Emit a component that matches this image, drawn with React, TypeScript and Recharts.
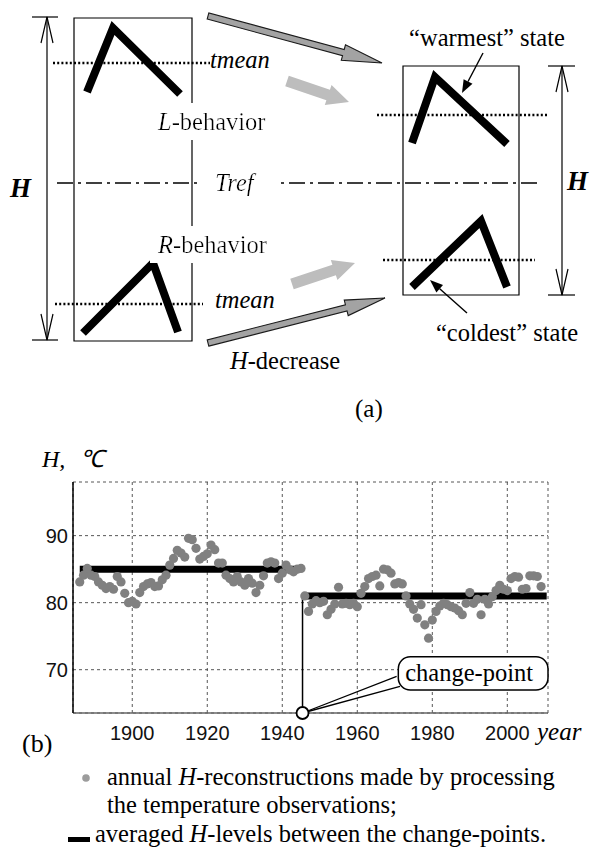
import React from 'react';
import {
  ComposedChart, XAxis, YAxis, CartesianGrid, Line, Scatter,
  ReferenceLine, ReferenceDot, ReferenceArea,
} from 'recharts';

const SERIF = "'Liberation Serif', 'Times New Roman', Times, serif";
const SANS = "'Liberation Sans', Arial, Helvetica, sans-serif";
const TEXT_SIZE = 24.5;

// ===================== Panel (b): data =====================
const yearsBefore = [
  1886, 1887, 1888, 1889, 1890, 1891, 1892, 1893, 1894, 1895,
  1896, 1897, 1898, 1899, 1900, 1901, 1902, 1903, 1904, 1905,
  1906, 1907, 1908, 1909, 1910, 1911, 1912, 1913, 1914, 1915,
  1916, 1917, 1918, 1919, 1920, 1921, 1922, 1923, 1924, 1925,
  1926, 1927, 1928, 1929, 1930, 1931, 1932, 1933, 1934, 1935,
  1936, 1937, 1938, 1939, 1940, 1941, 1942, 1943, 1944, 1945,
];
const hBefore = [
  83.1, 84.1, 85.1, 84.1, 83.9, 83.1, 82.6, 82.1, 82.4, 82.0,
  83.9, 83.1, 81.4, 80.0, 80.2, 79.8, 81.5, 82.4, 82.8, 83.0,
  82.4, 82.5, 83.4, 84.1, 85.6, 86.6, 87.8, 87.4, 86.8, 89.6,
  89.4, 88.1, 86.5, 86.9, 87.3, 88.6, 87.9, 85.9, 85.9, 84.1,
  83.6, 83.1, 83.9, 83.1, 82.6, 83.6, 82.9, 81.5, 82.6, 84.0,
  85.9, 86.1, 85.9, 83.6, 84.4, 85.6, 84.9, 84.6, 85.0, 85.1,
];
const yearsAfter = [
  1946, 1947, 1948, 1949, 1950, 1951, 1952, 1953, 1954, 1955,
  1956, 1957, 1958, 1959, 1960, 1961, 1962, 1963, 1964, 1965,
  1966, 1967, 1968, 1969, 1970, 1971, 1972, 1973, 1974, 1975,
  1976, 1977, 1978, 1979, 1980, 1981, 1982, 1983, 1984, 1985,
  1986, 1987, 1988, 1989, 1990, 1991, 1992, 1993, 1994, 1995,
  1996, 1997, 1998, 1999, 2000, 2001, 2002, 2003, 2004, 2005,
  2006, 2007, 2008, 2009,
];
const hAfter = [
  81.0, 78.7, 79.8, 80.3, 80.0, 80.2, 78.2, 79.0, 79.8, 82.3,
  79.8, 79.9, 79.7, 79.9, 79.4, 81.4, 82.4, 83.6, 83.9, 84.1,
  82.5, 85.0, 84.9, 84.4, 82.8, 83.0, 82.8, 81.0, 79.8, 79.0,
  77.7, 79.7, 76.7, 74.7, 77.4, 78.7, 79.5, 79.9, 79.7, 79.4,
  79.2, 78.8, 78.2, 79.9, 81.5, 79.9, 80.5, 78.2, 80.5, 79.8,
  80.9, 81.8, 82.6, 82.0, 81.8, 83.6, 83.9, 83.8, 82.0, 82.1,
  84.0, 84.0, 83.9, 82.4,
];
// averaged H-levels between change-points
const levelFrom = [1886, 1946];
const levelTo = [1944.7, 2010.5];
const levelH = [85, 81];
const changePointYear = 1945.4;

const yearTicks = [1900, 1920, 1940, 1960, 1980, 2000];
const hTicks = [70, 80, 90];
const yearDomain = [1884.2, 2010.85];
const hDomain = [63.54, 98.0];

// callout annotation (data space)
const calloutBox = { x1: 1970.94, x2: 2010.85, y1: 66.97, y2: 71.94 };
const calloutTail = [
  { x: 1970.5, y: 69.0 },
  { x: 1971.4, y: 67.5 },
];

const annualPoints = [
  ...yearsBefore.map((yr, i) => ({ year: yr, h: hBefore[i] })),
  ...yearsAfter.map((yr, i) => ({ year: yr, h: hAfter[i] })),
];
const levelSeries = levelH.map((h, i) => [
  { year: levelFrom[i], h },
  { year: levelTo[i], h },
]);

// ===================== Panel (a): schematic geometry =====================
const schemeBoxes = [
  { x1: 74, y1: 18, x2: 192, y2: 341 },
  { x1: 403, y1: 66, x2: 519, y2: 295 },
];
const schemeProfiles = [
  [{ x: 87, y: 92 }, { x: 113, y: 28 }, { x: 180, y: 94 }],
  [{ x: 83, y: 333 }, { x: 153, y: 263 }, { x: 178, y: 332 }],
  [{ x: 412, y: 143 }, { x: 435, y: 77 }, { x: 507, y: 144 }],
  [{ x: 412, y: 287 }, { x: 481, y: 221 }, { x: 507, y: 287 }],
];
const schemeMeanLines = [
  [{ x: 53, y: 63 }, { x: 210, y: 63 }],
  [{ x: 55, y: 304 }, { x: 203, y: 304 }],
  [{ x: 377, y: 115 }, { x: 548, y: 115 }],
  [{ x: 383, y: 260 }, { x: 535, y: 260 }],
];
const schemeTref = [{ x: 57, y: 183 }, { x: 538, y: 183 }];
const schemeSpans = [
  { x: 47, top: 17, bottom: 340, capFrom: 32, capTo: 58 },
  { x: 562, top: 66, bottom: 295, capFrom: 548, capTo: 575 },
];
const schemeBigArrows = [
  { from: { x: 208, y: 16 }, to: { x: 382, y: 63 }, kind: 'dark' },
  { from: { x: 208, y: 343 }, to: { x: 385, y: 298 }, kind: 'dark' },
  { from: { x: 287, y: 81 }, to: { x: 349, y: 102 }, kind: 'light' },
  { from: { x: 292, y: 284 }, to: { x: 355, y: 263 }, kind: 'light' },
];
const schemePointers = [
  { from: { x: 483, y: 53 }, to: { x: 462, y: 93 } },
  { from: { x: 467, y: 313 }, to: { x: 430, y: 280 } },
];
type Part = { t: string; i?: boolean; b?: boolean };
type Lab = { x: number; y: number; parts: Part[]; anchor?: string; size?: number; bg?: string };
const schemeLabels: Lab[] = [
  { x: 210, y: 68, parts: [{ t: 'tmean', i: true }] },
  { x: 158, y: 130, parts: [{ t: 'L', i: true }, { t: '-behavior' }], bg: 'bgText' },
  { x: 215, y: 191, parts: [{ t: 'Tref', i: true }], bg: 'bgWide' },
  { x: 158, y: 253, parts: [{ t: 'R', i: true }, { t: '-behavior' }], bg: 'bgText' },
  { x: 215, y: 308, parts: [{ t: 'tmean', i: true }] },
  { x: 10, y: 197, parts: [{ t: 'H', i: true, b: true }], size: 27 },
  { x: 567, y: 190, parts: [{ t: 'H', i: true, b: true }], size: 27 },
  { x: 487, y: 46, parts: [{ t: '\u201cwarmest\u201d state' }], anchor: 'middle' },
  { x: 507, y: 341, parts: [{ t: '\u201ccoldest\u201d state' }], anchor: 'middle' },
  { x: 230, y: 369, parts: [{ t: 'H', i: true }, { t: '-decrease' }] },
  { x: 355, y: 417, parts: [{ t: '(a)' }], size: 25 },
];

// legend of panel (b): runs of text (italic flags)
const legendRows = [
  { x: 107, y: 785, runs: [{ t: 'annual ' }, { t: 'H', i: true }, { t: '-reconstructions made by processing' }] },
  { x: 107, y: 813, runs: [{ t: 'the temperature observations;' }] },
  { x: 95, y: 842, runs: [{ t: 'averaged ' }, { t: 'H', i: true }, { t: '-levels between the change-points.' }] },
];
// advance widths (em/1000) of the leading runs in Times-compatible metrics
const runAdvance: Record<string, number> = { 'annual ': 2916, 'averaged ': 3859, H: 722 };

// ===================== shapes =====================
function arrowPolygon(x1: number, y1: number, x2: number, y2: number, sh: number, hh: number, hl: number) {
  const dx = x2 - x1, dy = y2 - y1;
  const L = Math.hypot(dx, dy) || 1;
  const ux = dx / L, uy = dy / L, nx = -uy, ny = ux;
  const bx = x2 - ux * hl, by = y2 - uy * hl;
  const pts = [
    [x1 + nx * sh, y1 + ny * sh],
    [bx + nx * sh, by + ny * sh],
    [bx + nx * hh, by + ny * hh],
    [x2, y2],
    [bx - nx * hh, by - ny * hh],
    [bx - nx * sh, by - ny * sh],
    [x1 - nx * sh, y1 - ny * sh],
  ];
  return pts.map((p) => `${p[0]},${p[1]}`).join(' ');
}

const bigArrowShape = (kind: string) => (p: any) => {
  const dark = kind === 'dark';
  const pts = arrowPolygon(p.x1, p.y1, p.x2, p.y2, dark ? 3.2 : 5.5, dark ? 8 : 10.5, dark ? 40 : 22);
  return (
    <polygon
      points={pts}
      fill={dark ? '#a3a3a3' : '#bdbdbd'}
      stroke={dark ? '#1a1a1a' : 'none'}
      strokeWidth={1.1}
      strokeLinejoin="miter"
    />
  );
};

const spanShape = (p: any) => {
  const { x1, y1, x2, y2 } = p;
  const L = 26, W = 6;
  const dir = Math.sign(y2 - y1) || 1;
  return (
    <g stroke="#000" strokeWidth={1.2} fill="none">
      <line x1={x1} y1={y1} x2={x2} y2={y2} />
      <polyline points={`${x1 - W},${y1 + dir * L} ${x1},${y1} ${x1 + W},${y1 + dir * L}`} />
      <polyline points={`${x2 - W},${y2 - dir * L} ${x2},${y2} ${x2 + W},${y2 - dir * L}`} />
    </g>
  );
};

const pointerShape = (p: any) => {
  const dx = p.x2 - p.x1, dy = p.y2 - p.y1;
  const L = Math.hypot(dx, dy) || 1;
  const ux = dx / L, uy = dy / L, nx = -uy, ny = ux;
  const hl = 13, hw = 5;
  const bx = p.x2 - ux * hl, by = p.y2 - uy * hl;
  return (
    <g>
      <line x1={p.x1} y1={p.y1} x2={bx} y2={by} stroke="#000" strokeWidth={1.4} />
      <polygon points={`${p.x2},${p.y2} ${bx + nx * hw},${by + ny * hw} ${bx - nx * hw},${by - ny * hw}`} fill="#000" />
    </g>
  );
};

const labelShape = (lab: Lab) => (p: any) => (
  <text
    x={p.cx}
    y={p.cy}
    textAnchor={(lab.anchor as any) || 'start'}
    fontFamily={SERIF}
    fontSize={lab.size || TEXT_SIZE}
    fill="#000"
    filter={lab.bg ? `url(#${lab.bg})` : undefined}
  >
    {lab.parts.map((s, i) => (
      <tspan key={i} fontStyle={s.i ? 'italic' : 'normal'} fontWeight={s.b ? 'bold' : 'normal'}>
        {s.t}
      </tspan>
    ))}
  </text>
);

const calloutShape = (p: any) => (
  <g>
    <rect x={p.x} y={p.y} width={p.width} height={p.height} rx={12} ry={12} fill="#fff" stroke="#000" strokeWidth={1.5} />
    <text x={p.x + p.width / 2 - 4} y={p.y + p.height - 9} textAnchor="middle" fontFamily={SERIF} fontSize={TEXT_SIZE} fill="#000">
      change-point
    </text>
  </g>
);

const dotShape = (p: any) => <circle cx={p.cx} cy={p.cy} r={4.6} fill="#808080" />;

function LegendRow({ row }: { row: { x: number; y: number; runs: { t: string; i?: boolean }[] } }) {
  let x = row.x;
  return (
    <>
      {row.runs.map((r, k) => {
        const el = (
          <text key={k} x={x} y={row.y} fontSize={TEXT_SIZE} fontStyle={r.i ? 'italic' : 'normal'}>
            {r.t}
          </text>
        );
        x += ((runAdvance[r.t] || 0) / 1000) * TEXT_SIZE;
        return el;
      })}
    </>
  );
}

// ===================== component =====================
export default function App() {
  return (
    <div style={{ position: 'absolute', left: 0, top: 0, width: 593, height: 850, background: '#fff' }}>
      {/* Panel (a) schematic */}
      <div style={{ position: 'absolute', left: 0, top: 0 }}>
        <ComposedChart width={593} height={430} margin={{ top: 0, right: 0, bottom: 0, left: 0 }}>
          <XAxis type="number" dataKey="x" domain={[0, 593]} hide allowDataOverflow height={0} />
          <YAxis type="number" dataKey="y" domain={[0, 430]} reversed hide allowDataOverflow width={0} />
          {schemeBoxes.map((b, i) => (
            <ReferenceArea key={`box${i}`} x1={b.x1} x2={b.x2} y1={b.y1} y2={b.y2} fill="none" fillOpacity={0} stroke="#000" strokeWidth={1.2} ifOverflow="visible" />
          ))}
          {schemeMeanLines.map((s, i) => (
            <ReferenceLine key={`mean${i}`} segment={s} stroke="#000" strokeWidth={2.6} strokeDasharray="2 2.2" ifOverflow="visible" />
          ))}
          <ReferenceLine segment={schemeTref} stroke="#000" strokeWidth={1.5} strokeDasharray="16 5 3 5" ifOverflow="visible" />
          {schemeSpans.map((s, i) => (
            <ReferenceLine key={`span${i}`} segment={[{ x: s.x, y: s.top }, { x: s.x, y: s.bottom }]} shape={spanShape} ifOverflow="visible" />
          ))}
          {schemeSpans.map((s, i) => (
            <ReferenceLine key={`capt${i}`} segment={[{ x: s.capFrom, y: s.top }, { x: s.capTo, y: s.top }]} stroke="#000" strokeWidth={1.2} ifOverflow="visible" />
          ))}
          {schemeSpans.map((s, i) => (
            <ReferenceLine key={`capb${i}`} segment={[{ x: s.capFrom, y: s.bottom }, { x: s.capTo, y: s.bottom }]} stroke="#000" strokeWidth={1.2} ifOverflow="visible" />
          ))}
          {schemeBigArrows.map((a, i) => (
            <ReferenceLine key={`arr${i}`} segment={[a.from, a.to]} shape={bigArrowShape(a.kind)} ifOverflow="visible" />
          ))}
          {schemePointers.map((a, i) => (
            <ReferenceLine key={`ptr${i}`} segment={[a.from, a.to]} shape={pointerShape} ifOverflow="visible" />
          ))}
          {schemeProfiles.map((pts, i) => (
            <Line
              key={`prof${i}`}
              data={pts}
              dataKey="y"
              type="linear"
              stroke="#000"
              strokeWidth={8}
              strokeLinejoin="miter"
              strokeLinecap="butt"
              dot={false}
              activeDot={false}
              isAnimationActive={false}
            />
          ))}
          {schemeLabels.map((l, i) => (
            <ReferenceDot key={`lab${i}`} x={l.x} y={l.y} r={0} shape={labelShape(l)} ifOverflow="visible" />
          ))}
        </ComposedChart>
      </div>

      {/* Panel (b) chart */}
      <div style={{ position: 'absolute', left: 0, top: 430 }}>
        <ComposedChart width={593} height={420} margin={{ top: 52, right: 45, bottom: 107, left: 43 }}>
          <CartesianGrid stroke="#444" strokeWidth={0.9} strokeDasharray="3 3" />
          <XAxis
            type="number"
            dataKey="year"
            domain={yearDomain}
            ticks={yearTicks}
            interval={0}
            allowDataOverflow
            height={30}
            tickLine={false}
            tickSize={6}
            tickMargin={7}
            axisLine={{ stroke: '#666', strokeWidth: 1.3 }}
            tick={{ fontFamily: SANS, fontSize: 20, fill: '#111' }}
          />
          <YAxis
            type="number"
            dataKey="h"
            domain={hDomain}
            ticks={hTicks}
            interval={0}
            allowDataOverflow
            width={30}
            tickLine={false}
            tickSize={3}
            tickMargin={2}
            axisLine={{ stroke: '#000', strokeWidth: 1.5 }}
            tick={{ fontFamily: SANS, fontSize: 20, fill: '#111' }}
          />
          <Scatter data={annualPoints} fill="#808080" shape={dotShape} isAnimationActive={false} />
          {levelSeries.map((d, i) => (
            <Line
              key={`lvl${i}`}
              data={d}
              dataKey="h"
              type="linear"
              stroke="#000"
              strokeWidth={7}
              strokeLinecap="butt"
              dot={false}
              activeDot={false}
              isAnimationActive={false}
            />
          ))}
          <ReferenceLine
            segment={[{ x: changePointYear, y: levelH[1] }, { x: changePointYear, y: hDomain[0] }]}
            stroke="#000"
            strokeWidth={1.5}
            ifOverflow="visible"
          />
          {calloutTail.map((pt, i) => (
            <ReferenceLine
              key={`tail${i}`}
              segment={[{ x: changePointYear, y: hDomain[0] }, pt]}
              stroke="#000"
              strokeWidth={1.3}
              ifOverflow="visible"
            />
          ))}
          <ReferenceArea
            x1={calloutBox.x1}
            x2={calloutBox.x2}
            y1={calloutBox.y1}
            y2={calloutBox.y2}
            shape={calloutShape}
            ifOverflow="visible"
          />
          <ReferenceDot x={changePointYear} y={hDomain[0]} r={6} fill="#fff" stroke="#000" strokeWidth={1.8} ifOverflow="visible" />
        </ComposedChart>
      </div>

      {/* Axis titles, panel tag and legend */}
      <svg width={593} height={850} style={{ position: 'absolute', left: 0, top: 0, pointerEvents: 'none' }}>
        <defs>
          <filter id="bgText" x="-0.06" y="-0.15" width="1.12" height="1.3">
            <feFlood floodColor="#fff" />
            <feComposite in="SourceGraphic" />
          </filter>
          <filter id="bgWide" x="-0.35" y="-0.1" width="1.9" height="1.2">
            <feFlood floodColor="#fff" />
            <feComposite in="SourceGraphic" />
          </filter>
        </defs>
        <g fontFamily={SERIF} fill="#000">
          <text x={42} y={467} fontSize={24} fontStyle="italic">H,</text>
          <text x={80} y={467} fontSize={24} fontStyle="italic">℃</text>
          <text x={537} y={740} fontSize={25} fontStyle="italic">year</text>
          <text x={22} y={752} fontSize={26}>(b)</text>
          <circle cx={86} cy={778} r={3.8} fill="#9c9c9c" />
          <rect x={68} y={837} width={22} height={5} fill="#000" />
          {legendRows.map((row, i) => (
            <LegendRow key={i} row={row} />
          ))}
        </g>
      </svg>
    </div>
  );
}
